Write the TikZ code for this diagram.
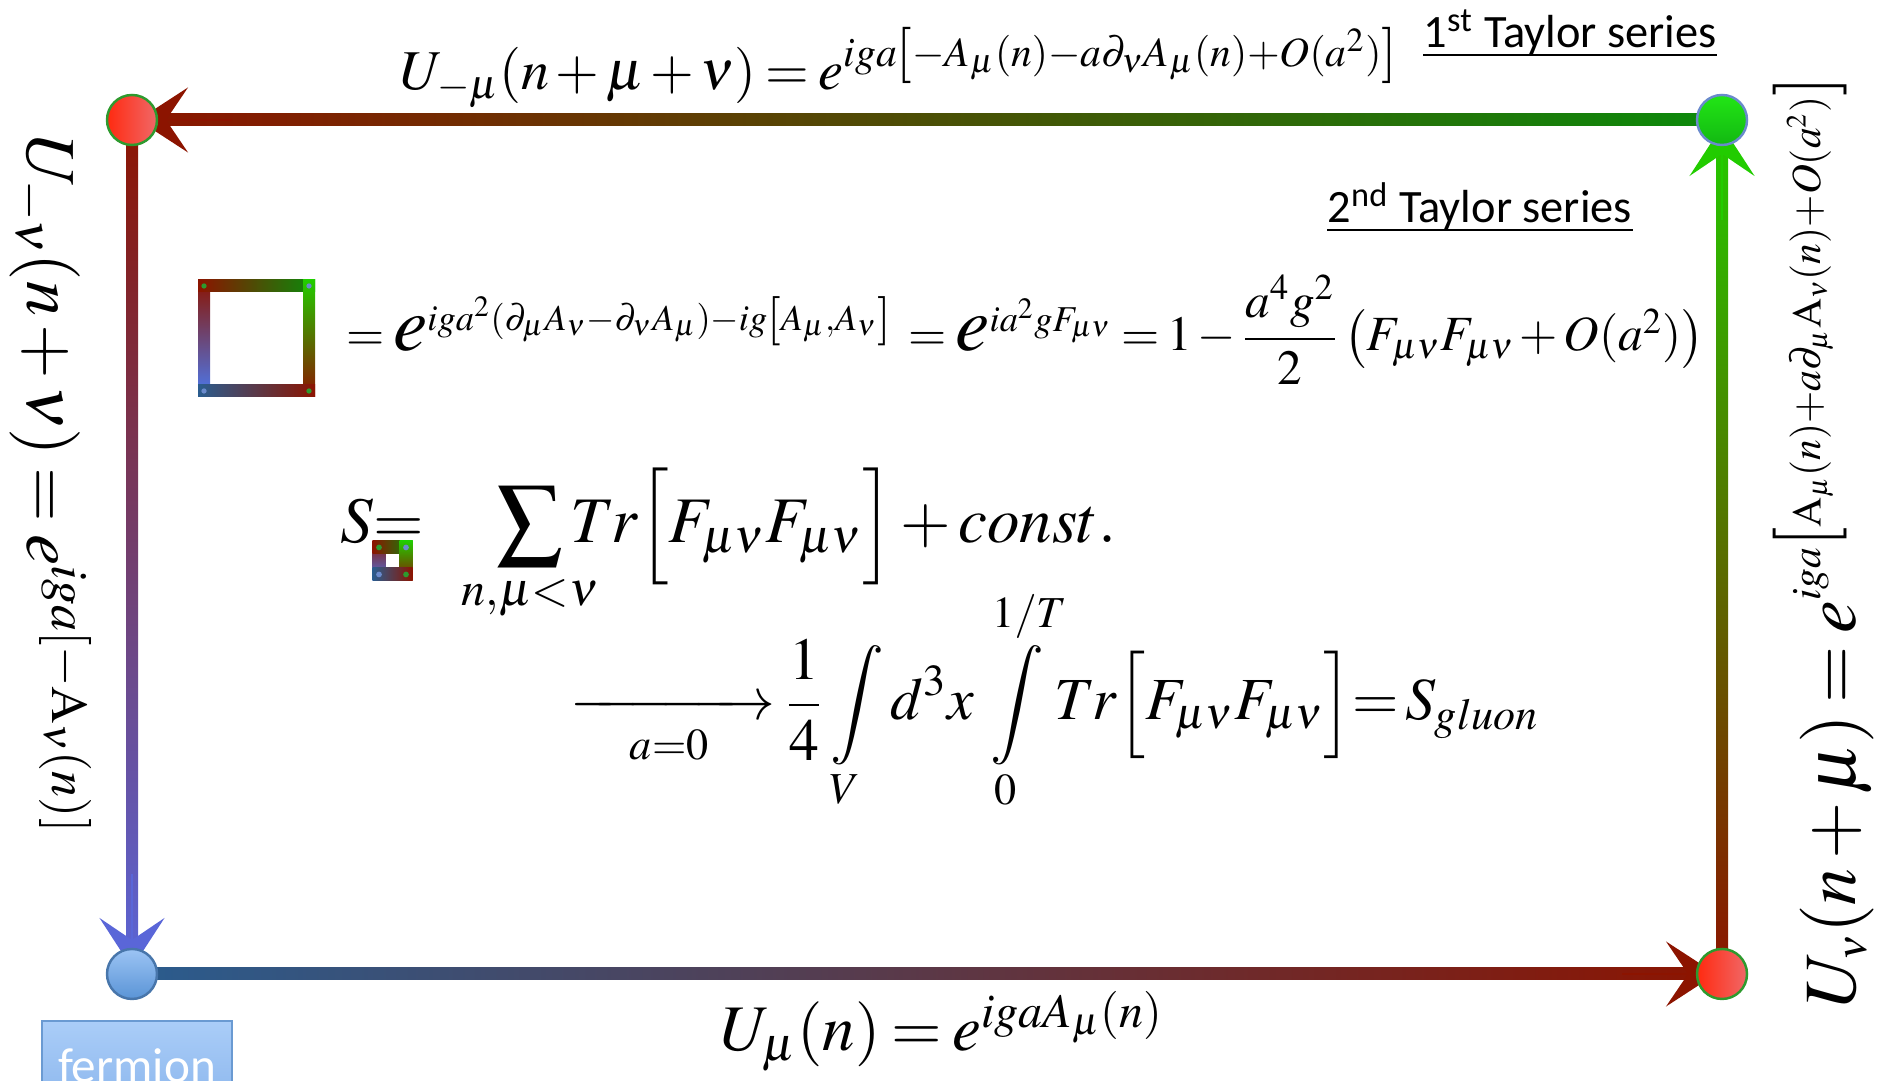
\documentclass[tikz,border=0pt]{standalone}
\usepackage{amsmath,mathtools}
\usepackage{mathptmx}
\usepackage[no-math]{fontspec}
\newfontfamily\calibri{Carlito}
\usepackage{tikz}
\usetikzlibrary{arrows.meta,calc}

\definecolor{linkred}{HTML}{8C1400}
\definecolor{linkgreen}{HTML}{0B8A0B}
\definecolor{linklime}{HTML}{22CC00}
\definecolor{linkblue}{HTML}{5A66D8}
\definecolor{linksteel}{HTML}{2A5C8E}
\definecolor{plaqblue}{HTML}{4A7AF0}
\definecolor{sitered}{HTML}{FF2A10}
\definecolor{sitepink}{HTML}{F06868}
\definecolor{siterim}{HTML}{2E9A2E}
\definecolor{sitegreen}{HTML}{22E615}
\definecolor{sitegreendark}{HTML}{12B812}
\definecolor{sitebluerim}{HTML}{6A8ACC}
\definecolor{siteblue}{HTML}{9CC4F4}
\definecolor{siteblueb}{HTML}{5A94D6}
\definecolor{fermiontop}{HTML}{AACDF8}
\definecolor{fermionbot}{HTML}{8AB5EC}
\definecolor{fermionrim}{HTML}{6A9AD2}

% tighter spacing, small exponents on the right link
\thickmuskip=3mu plus 2mu
\medmuskip=2mu plus 1mu
\DeclareMathSizes{21}{21}{11.8}{8}

% big e of the plaquette line
\newcommand{\bigE}{\mbox{\fontsize{22}{22}\selectfont$e$}}

% plaquette icon: centre x, centre y, half side, bar width
\newcommand{\plaquette}[4]{%
  \begin{scope}[shift={(#1,#2)}]
    \shade[top color=linkred, bottom color=plaqblue] (-#3,-#3) rectangle (-#3+#4,#3);
    \shade[left color=linkred, right color=linkgreen] (-#3,#3-#4) rectangle (#3,#3);
    \shade[top color=linklime, bottom color=linkred] (#3-#4,-#3) rectangle (#3,#3);
    \shade[left color=linksteel, right color=linkred] (-#3,-#3) rectangle (#3,-#3+#4);
    \fill[siterim] (-#3+#4/2,#3-#4/2) circle (#4*0.22);
    \fill[sitebluerim] (#3-#4/2,#3-#4/2) circle (#4*0.22);
    \fill[sitebluerim] (-#3+#4/2,-#3+#4/2) circle (#4*0.22);
    \fill[siterim] (#3-#4/2,-#3+#4/2) circle (#4*0.22);
  \end{scope}}

\begin{document}
\begin{tikzpicture}[
    site/.style={circle, minimum size=0.5cm, inner sep=0pt, line width=0.7pt},
    redsite/.style={site, draw=siterim, left color=sitered, right color=sitepink},
    greensite/.style={site, draw=sitebluerim, top color=sitegreen, bottom color=sitegreendark},
    bluesite/.style={site, draw=siteblueb!80!black, top color=siteblue, bottom color=siteblueb},
    linkhead/.style={line width=0.6pt, -{Stealth[length=5mm, width=6.5mm, inset=2.2mm]}},
    eqn/.style={anchor=base west, inner sep=0pt},
    taylor/.style={anchor=base west, inner sep=0pt, font=\calibri\fontsize{13.2}{16}\selectfont},
    fermionbox/.style={draw=fermionrim, line width=0.8pt, top color=fermiontop, bottom color=fermionbot,
      text=white, font=\calibri\fontsize{14}{16}\selectfont, minimum width=1.9cm, minimum height=0.9cm, inner sep=0pt}
  ]
  \clip (0,0) rectangle (18.83,10.81);

  % lattice sites
  \coordinate (tl) at (1.32,9.61);
  \coordinate (tr) at (17.22,9.61);
  \coordinate (bl) at (1.32,1.07);
  \coordinate (br) at (17.22,1.07);

  % link variables
  \shade[left color=linkred, right color=linkgreen] ($(tl)+(0,-0.06)$) rectangle ($(tr)+(0,0.06)$);
  \shade[top color=linkred, bottom color=linkblue] ($(bl)+(-0.06,0)$) rectangle ($(tl)+(0.06,0)$);
  \shade[left color=linksteel, right color=linkred] ($(bl)+(0,-0.06)$) rectangle ($(br)+(0,0.06)$);
  \shade[top color=linklime, bottom color=linkred] ($(br)+(-0.06,0)$) rectangle ($(tr)+(0.06,0)$);

  \draw[linkhead, linkred] ($(tl)+(1.0,0)$) -- ($(tl)+(0.06,0)$);
  \draw[linkhead, linkblue] ($(bl)+(0,1.0)$) -- ($(bl)+(0,0.06)$);
  \draw[linkhead, linkred] ($(br)+(-1.0,0)$) -- ($(br)+(-0.06,0)$);
  \draw[linkhead, linklime] ($(tr)+(0,-1.0)$) -- ($(tr)+(0,-0.06)$);

  \node[redsite] (tlsite) at (tl) {};
  \node[greensite] (trsite) at (tr) {};
  \node[bluesite] (blsite) at (bl) {};
  \node[redsite] (brsite) at (br) {};

  % link labels
  \node[eqn, font=\fontsize{16}{18}\selectfont] (toplink) at (4.00,9.91)
    {$U_{-\mu}(n+\mu+\nu)=e^{iga\left[-A_\mu(n)-a\partial_\nu A_\mu(n)+O(a^2)\right]}$};
  \node[eqn, font=\fontsize{18.5}{20}\selectfont] (bottomlink) at (7.20,0.30)
    {$U_\mu(n)=e^{igaA_\mu(n)}$};
  \node[eqn, rotate=-90, font=\fontsize{20}{22}\selectfont] (leftlink) at (0.27,9.47)
    {$U_{-\nu}(n+\nu)=e^{iga\left[-\mathrm{A}_\nu(n)\right]}$};
  \node[eqn, rotate=90, font=\fontsize{21}{24}\selectfont] (rightlink) at (18.55,0.72)
    {$U_\nu(n+\mu)=e^{iga\left[\mathrm{A}_\mu(n)+a\partial_\mu\mathrm{A}_\nu(n)+O(a^2)\right]}$};

  \node[taylor] (taylorone) at (14.23,10.33) {1\textsuperscript{st} Taylor series};
  \node[taylor] (taylortwo) at (13.27,8.58) {2\textsuperscript{nd} Taylor series};
  \draw[line width=0.8pt] ($(taylorone.base west)+(0,-0.07)$) -- ($(taylorone.base east)+(0,-0.07)$);
  \draw[line width=0.8pt] ($(taylortwo.base west)+(0,-0.07)$) -- ($(taylortwo.base east)+(0,-0.07)$);

  % plaquette and action
  \plaquette{2.565}{7.425}{0.585}{0.12}
  \node[eqn, font=\fontsize{14}{17}\selectfont] (plaqdef) at (3.46,7.30)
    {$=\bigE^{iga^2(\partial_\mu A_\nu-\partial_\nu A_\mu)-ig\left[A_\mu,A_\nu\right]}\;=\bigE^{ia^2gF_{\mu\nu}}=1-\dfrac{a^4g^2}{2}\left(F_{\mu\nu}F_{\mu\nu}+O(a^2)\right)$};

  \node[eqn, font=\fontsize{18.5}{22}\selectfont] (action) at (3.40,5.38)
    {$S\mathord{=}\hspace{0.65cm}\displaystyle\sum_{\mathclap{n,\mu<\nu}}Tr\Bigl[F_{\mu\nu}F_{\mu\nu}\Bigr]+const.$};
  \plaquette{3.925}{5.20}{0.2}{0.13}

  \node[eqn, font=\fontsize{17}{20}\selectfont] (contlimit) at (5.70,3.61)
    {$\displaystyle\xrightarrow[a=0]{\hspace{1.7cm}}\frac{1}{4}\int\limits_V d^3x\int\limits_0^{1/T}\!Tr\Bigl[F_{\mu\nu}F_{\mu\nu}\Bigr]\mathord{=}\,S_{gluon}$};

  \node[fermionbox] (fermion) at (1.37,0.15) {fermion};
\end{tikzpicture}
\end{document}
